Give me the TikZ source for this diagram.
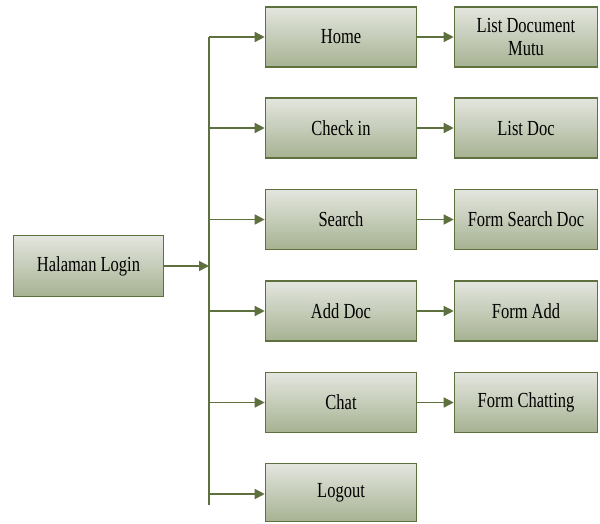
\documentclass[tikz,border=0pt]{standalone}
\usepackage{fontspec}
\usepackage{graphicx}
\setmainfont{Liberation Serif}
\usetikzlibrary{arrows.meta}
\definecolor{edge}{RGB}{94,112,62}
\definecolor{boxtop}{RGB}{228,230,223}
\definecolor{boxbot}{RGB}{166,178,146}
\newcommand\vst[1]{\scalebox{1}[1.3]{#1}}
\tikzset{
  box/.style={draw=edge, line width=1.6pt, top color=boxtop, bottom color=boxbot,
    minimum height=60pt, inner sep=2pt, align=center,
    font=\fontsize{16.5}{23}\selectfont},
  midbox/.style={box, minimum width=151pt},
  rbox/.style={box, minimum width=143pt},
  conn/.style={draw=edge, line width=1.5pt},
  arr/.style={conn, -{Triangle[length=10pt,width=10pt]}}
}
\begin{document}
\begin{tikzpicture}[x=1pt,y=-1pt]
\useasboundingbox (0,0) rectangle (600,523);
\node[box, minimum width=150pt, minimum height=61pt] (login) at (88.5,266) {\vst{Halaman Login}};
\node[midbox] (home)   at (341,37)  {\vst{Home}};
\node[midbox] (check)  at (341,128) {\vst{Check in}};
\node[midbox] (search) at (341,219.5) {\vst{Search}};
\node[midbox] (add)    at (341,311) {\vst{Add Doc}};
\node[midbox] (chat)   at (341,402.5) {\vst{Chat}};
\node[midbox, minimum height=58pt] (logout) at (341,492.5) {\vst{Logout}};
\node[rbox] (listmutu) at (526,37)  {\vst{List Document}\\\vst{Mutu}};
\node[rbox] (listdoc)  at (526,128) {\vst{List Doc}};
\node[rbox] (fsearch)  at (526,219.5) {\vst{Form Search Doc}};
\node[rbox] (fadd)     at (526,311) {\vst{Form Add}};
\node[rbox] (fchat)    at (526,402.5) {\vst{Form Chatting}};
\coordinate (top) at (209,37);
\coordinate (bot) at (209,505);
\coordinate (jin) at (209,266);
\coordinate (j1) at (209,128);
\coordinate (j2) at (209,219.5);
\coordinate (j3) at (209,311);
\coordinate (j4) at (209,402.5);
\coordinate (j5) at (209,494);
\draw[conn] (top) -- (bot);
\draw[arr] (login.east) -- (jin);
\draw[arr] (top) -- (home.west);
\draw[arr] (j1) -- (check.west);
\draw[arr] (j2) -- (search.west);
\draw[arr] (j3) -- (add.west);
\draw[arr] (j4) -- (chat.west);
\draw[arr] (j5) -- (logout.west |- j5);
\draw[arr] (home.east) -- (listmutu.west);
\draw[arr] (check.east) -- (listdoc.west);
\draw[arr] (search.east) -- (fsearch.west);
\draw[arr] (add.east) -- (fadd.west);
\draw[arr] (chat.east) -- (fchat.west);
\end{tikzpicture}
\end{document}
